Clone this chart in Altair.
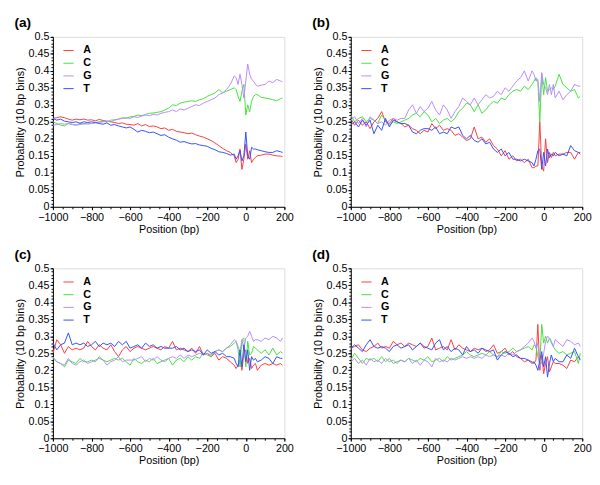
import altair as alt
import pandas as pd

positions = list(range(-1000, -59, 20)) + list(range(-50, 61, 10)) + list(range(80, 181, 20)) + [190]
bases = ["A", "C", "G", "T"]
colors = ["#ff3b3b", "#44e23a", "#b98aff", "#3050ff"]
x_ticks = list(range(-1000, 201, 200))
y_ticks = [round(i * 0.05, 2) for i in range(11)]

a_A = [0.26, 0.262, 0.265, 0.262, 0.258, 0.255, 0.258, 0.256, 0.258, 0.255,
       0.256, 0.253, 0.257, 0.254, 0.252, 0.25, 0.248, 0.245, 0.247, 0.243,
       0.242, 0.24, 0.245, 0.238, 0.242, 0.236, 0.238, 0.235, 0.23, 0.232,
       0.225, 0.228, 0.222, 0.22, 0.218, 0.215, 0.217, 0.212, 0.208, 0.205,
       0.2, 0.195, 0.188, 0.18, 0.172, 0.165, 0.16, 0.15,
       0.13, 0.14, 0.17, 0.11, 0.14, 0.185, 0.14, 0.165, 0.13, 0.14, 0.145, 0.15,
       0.152, 0.155, 0.155, 0.152, 0.15, 0.149, 0.148]
a_C = [0.25, 0.245, 0.24, 0.238, 0.245, 0.243, 0.24, 0.245, 0.243, 0.247,
       0.245, 0.248, 0.25, 0.252, 0.25, 0.255, 0.256, 0.258, 0.262, 0.26,
       0.265, 0.266, 0.27, 0.268, 0.272, 0.275, 0.276, 0.278, 0.28, 0.285,
       0.29, 0.3, 0.298, 0.305, 0.308, 0.31, 0.312, 0.31, 0.315, 0.318,
       0.325, 0.33, 0.335, 0.345, 0.335, 0.34, 0.345, 0.35,
       0.345, 0.325, 0.31, 0.34, 0.36, 0.27, 0.3, 0.28, 0.31, 0.325, 0.33, 0.33,
       0.322, 0.32, 0.318, 0.315, 0.312, 0.318, 0.32]
a_G = [0.24, 0.242, 0.245, 0.243, 0.245, 0.242, 0.24, 0.242, 0.245, 0.243,
       0.245, 0.247, 0.248, 0.25, 0.252, 0.25, 0.255, 0.258, 0.26, 0.262,
       0.26, 0.265, 0.263, 0.267, 0.27, 0.268, 0.272, 0.27, 0.275, 0.278,
       0.28, 0.285, 0.28, 0.288, 0.285, 0.29, 0.295, 0.3, 0.298, 0.305,
       0.31, 0.315, 0.32, 0.33, 0.335, 0.345, 0.36, 0.385,
       0.38, 0.36, 0.39, 0.36, 0.32, 0.37, 0.42, 0.39, 0.375, 0.37, 0.36, 0.355,
       0.358, 0.36, 0.37, 0.365, 0.375, 0.37, 0.368]
a_T = [0.26, 0.255, 0.258, 0.252, 0.25, 0.248, 0.25, 0.246, 0.25, 0.248,
       0.25, 0.248, 0.245, 0.243, 0.247, 0.24, 0.242, 0.238, 0.235, 0.232,
       0.235, 0.228, 0.22, 0.225, 0.222, 0.218, 0.22, 0.215, 0.21, 0.212,
       0.205, 0.2, 0.196, 0.19, 0.192, 0.188, 0.185, 0.186, 0.182, 0.18,
       0.178, 0.172, 0.168, 0.162, 0.16, 0.157, 0.152, 0.155,
       0.14, 0.15, 0.165, 0.135, 0.15, 0.22, 0.15, 0.14, 0.175, 0.17, 0.17, 0.168,
       0.165, 0.162, 0.16, 0.16, 0.165, 0.162, 0.16]

b_A = [0.26, 0.24, 0.255, 0.24, 0.25, 0.23, 0.25, 0.26, 0.28, 0.25,
       0.245, 0.26, 0.25, 0.245, 0.235, 0.24, 0.23, 0.225, 0.215, 0.225,
       0.22, 0.245, 0.23, 0.24, 0.225, 0.23, 0.225, 0.21, 0.215, 0.205,
       0.195, 0.2, 0.235, 0.2, 0.205, 0.19, 0.2, 0.18, 0.17, 0.15,
       0.165, 0.14, 0.15, 0.135, 0.14, 0.13, 0.14, 0.115,
       0.115, 0.12, 0.12, 0.25, 0.12, 0.105, 0.2, 0.13, 0.16, 0.145, 0.16, 0.15,
       0.155, 0.155, 0.16, 0.16, 0.14, 0.16, 0.16]
b_C = [0.27, 0.25, 0.26, 0.265, 0.25, 0.26, 0.255, 0.245, 0.27, 0.255,
       0.24, 0.25, 0.245, 0.25, 0.255, 0.26, 0.27, 0.275, 0.265, 0.28,
       0.27, 0.25, 0.26, 0.245, 0.255, 0.26, 0.25, 0.26, 0.28, 0.29,
       0.305, 0.3, 0.28, 0.3, 0.275, 0.285, 0.3, 0.31, 0.305, 0.32,
       0.315, 0.33, 0.34, 0.345, 0.34, 0.355, 0.345, 0.36,
       0.37, 0.38, 0.365, 0.25, 0.39, 0.33, 0.38, 0.34, 0.345, 0.35, 0.345, 0.355,
       0.39, 0.36, 0.35, 0.34, 0.345, 0.32, 0.325]
b_G = [0.255, 0.265, 0.245, 0.26, 0.235, 0.265, 0.255, 0.245, 0.25, 0.24,
       0.255, 0.26, 0.255, 0.26, 0.26, 0.285, 0.3, 0.275, 0.295, 0.28,
       0.29, 0.31, 0.285, 0.27, 0.3, 0.285, 0.26, 0.28, 0.295, 0.32,
       0.31, 0.3, 0.32, 0.3, 0.315, 0.33, 0.32, 0.325, 0.34, 0.33,
       0.35, 0.34, 0.355, 0.37, 0.38, 0.4, 0.37, 0.4,
       0.39, 0.37, 0.375, 0.31, 0.395, 0.36, 0.35, 0.33, 0.36, 0.33, 0.36, 0.32,
       0.34, 0.315, 0.33, 0.34, 0.36, 0.355, 0.355]
b_T = [0.24, 0.25, 0.235, 0.255, 0.24, 0.255, 0.215, 0.24, 0.225, 0.26,
       0.235, 0.255, 0.25, 0.245, 0.245, 0.24, 0.22, 0.215, 0.225, 0.23,
       0.23, 0.225, 0.235, 0.215, 0.22, 0.215, 0.235, 0.23, 0.235, 0.21,
       0.2, 0.21, 0.195, 0.19, 0.2, 0.185, 0.19, 0.17, 0.16, 0.17,
       0.15, 0.16, 0.14, 0.14, 0.135, 0.14, 0.135, 0.13,
       0.12, 0.14, 0.165, 0.17, 0.11, 0.16, 0.12, 0.17, 0.145, 0.155, 0.15, 0.16,
       0.15, 0.155, 0.15, 0.18, 0.165, 0.16, 0.155]

c_A = [0.25, 0.29, 0.275, 0.25, 0.27, 0.26, 0.265, 0.26, 0.265, 0.285,
       0.27, 0.26, 0.275, 0.265, 0.26, 0.275, 0.255, 0.24, 0.26, 0.27,
       0.255, 0.265, 0.27, 0.265, 0.26, 0.265, 0.27, 0.265, 0.26, 0.27,
       0.265, 0.285, 0.26, 0.265, 0.26, 0.255, 0.265, 0.25, 0.27, 0.245,
       0.25, 0.24, 0.25, 0.23, 0.24, 0.235, 0.225, 0.215,
       0.205, 0.215, 0.23, 0.2, 0.25, 0.26, 0.22, 0.235, 0.205, 0.215, 0.22, 0.2,
       0.215, 0.22, 0.215, 0.22, 0.215, 0.22, 0.215]
c_C = [0.235, 0.225, 0.22, 0.21, 0.23, 0.225, 0.22, 0.235, 0.225, 0.225,
       0.23, 0.225, 0.24, 0.23, 0.225, 0.23, 0.235, 0.23, 0.235, 0.225,
       0.215, 0.235, 0.225, 0.22, 0.23, 0.225, 0.235, 0.22, 0.225, 0.23,
       0.235, 0.215, 0.23, 0.235, 0.225, 0.24, 0.23, 0.24, 0.235, 0.25,
       0.245, 0.24, 0.255, 0.26, 0.255, 0.265, 0.27, 0.28,
       0.285, 0.26, 0.21, 0.29, 0.295, 0.21, 0.285, 0.245, 0.25, 0.27, 0.265, 0.26,
       0.25, 0.26, 0.245, 0.265, 0.245, 0.255, 0.25]
c_G = [0.24, 0.225, 0.22, 0.215, 0.235, 0.22, 0.215, 0.225, 0.23, 0.22,
       0.225, 0.23, 0.235, 0.23, 0.215, 0.225, 0.23, 0.24, 0.225, 0.23,
       0.23, 0.23, 0.235, 0.24, 0.225, 0.235, 0.23, 0.24, 0.23, 0.225,
       0.235, 0.24, 0.235, 0.245, 0.235, 0.245, 0.24, 0.245, 0.25, 0.245,
       0.25, 0.245, 0.255, 0.26, 0.255, 0.265, 0.275, 0.29,
       0.285, 0.27, 0.255, 0.29, 0.26, 0.295, 0.3, 0.315, 0.3, 0.285, 0.29, 0.29,
       0.285, 0.295, 0.29, 0.3, 0.295, 0.285, 0.295]
c_T = [0.28, 0.26, 0.275, 0.28, 0.31, 0.275, 0.28, 0.275, 0.28, 0.27,
       0.275, 0.285, 0.27, 0.28, 0.275, 0.28, 0.27, 0.285, 0.275, 0.285,
       0.265, 0.27, 0.275, 0.265, 0.28, 0.27, 0.275, 0.265, 0.27, 0.265,
       0.265, 0.265, 0.27, 0.26, 0.265, 0.255, 0.26, 0.255, 0.26, 0.245,
       0.26, 0.25, 0.255, 0.245, 0.25, 0.24, 0.24, 0.235,
       0.22, 0.21, 0.26, 0.21, 0.275, 0.225, 0.26, 0.2, 0.24, 0.23, 0.235, 0.225,
       0.23, 0.24, 0.235, 0.22, 0.24, 0.235, 0.235]

d_A = [0.265, 0.27, 0.275, 0.26, 0.255, 0.265, 0.27, 0.28, 0.265, 0.27,
       0.265, 0.285, 0.275, 0.28, 0.27, 0.28, 0.275, 0.27, 0.28, 0.265,
       0.27, 0.295, 0.26, 0.265, 0.27, 0.26, 0.29, 0.26, 0.275, 0.265,
       0.26, 0.255, 0.265, 0.26, 0.265, 0.255, 0.26, 0.275, 0.25, 0.255,
       0.265, 0.245, 0.255, 0.24, 0.235, 0.225, 0.23, 0.225,
       0.22, 0.23, 0.335, 0.2, 0.245, 0.19, 0.22, 0.24, 0.195, 0.21, 0.225, 0.22,
       0.22, 0.215, 0.205, 0.23, 0.225, 0.24, 0.235]
d_C = [0.23, 0.25, 0.235, 0.22, 0.235, 0.23, 0.235, 0.225, 0.24, 0.225,
       0.235, 0.22, 0.225, 0.23, 0.225, 0.235, 0.23, 0.225, 0.235, 0.23,
       0.24, 0.225, 0.23, 0.235, 0.225, 0.24, 0.23, 0.235, 0.24, 0.245,
       0.255, 0.245, 0.24, 0.245, 0.25, 0.245, 0.255, 0.245, 0.24, 0.255,
       0.25, 0.255, 0.265, 0.255, 0.26, 0.265, 0.27, 0.26,
       0.275, 0.27, 0.24, 0.22, 0.335, 0.28, 0.3, 0.28, 0.295, 0.285, 0.27, 0.26,
       0.25, 0.255, 0.245, 0.25, 0.255, 0.22, 0.25]
d_G = [0.225, 0.235, 0.22, 0.23, 0.215, 0.235, 0.225, 0.23, 0.22, 0.235,
       0.225, 0.23, 0.22, 0.23, 0.225, 0.235, 0.22, 0.23, 0.215, 0.23,
       0.225, 0.21, 0.235, 0.225, 0.23, 0.225, 0.235, 0.23, 0.235, 0.24,
       0.235, 0.24, 0.235, 0.24, 0.235, 0.245, 0.24, 0.245, 0.24, 0.245,
       0.24, 0.25, 0.245, 0.255, 0.26, 0.27, 0.28, 0.295,
       0.285, 0.265, 0.28, 0.21, 0.225, 0.25, 0.285, 0.3, 0.295, 0.28, 0.27, 0.29,
       0.28, 0.27, 0.29, 0.285, 0.275, 0.28, 0.27]
d_T = [0.265, 0.275, 0.265, 0.255, 0.275, 0.29, 0.27, 0.265, 0.27, 0.265,
       0.255, 0.27, 0.275, 0.265, 0.27, 0.275, 0.26, 0.27, 0.28, 0.27,
       0.265, 0.26, 0.28, 0.29, 0.26, 0.27, 0.255, 0.265, 0.26, 0.245,
       0.27, 0.255, 0.26, 0.25, 0.265, 0.26, 0.255, 0.26, 0.23, 0.245,
       0.255, 0.25, 0.24, 0.245, 0.235, 0.235, 0.23, 0.22,
       0.225, 0.215, 0.2, 0.23, 0.255, 0.21, 0.24, 0.18, 0.22, 0.245, 0.225, 0.235,
       0.225, 0.225, 0.245, 0.235, 0.265, 0.24, 0.23]

panels = {
    "a": [a_A, a_C, a_G, a_T],
    "b": [b_A, b_C, b_G, b_T],
    "c": [c_A, c_C, c_G, c_T],
    "d": [d_A, d_C, d_G, d_T],
}

FONT = "Liberation Sans"
W, H = 237, 174
AX = dict(labelFont=FONT, titleFont=FONT, labelFontSize=11, titleFontSize=11,
          labelFontWeight="normal", titleFontWeight="normal",
          labelColor="black", titleColor="black", domainColor="black",
          tickColor="black", grid=False, labelOverlap=False, labelFlush=False)


def make_panel(letter):
    rows = []
    for base, series in zip(bases, panels[letter]):
        if len(series) != len(positions):
            raise ValueError(f"{letter}{base}: {len(series)} vs {len(positions)}")
        for p, v in zip(positions, series):
            rows.append({"pos": p, "prob": v, "base": base})
    df = pd.DataFrame(rows)
    xs = alt.Scale(domain=[-1000, 200], nice=False, zero=False)
    ys = alt.Scale(domain=[0, 0.5], nice=False)
    lines = alt.Chart(df).mark_line(strokeWidth=1, clip=True).encode(
        x=alt.X("pos:Q", scale=xs,
                axis=alt.Axis(values=x_ticks, format="d", title="Position (bp)",
                              orient="bottom", tickSize=3, labelPadding=2,
                              titlePadding=1, **AX)),
        y=alt.Y("prob:Q", scale=ys,
                axis=alt.Axis(values=y_ticks, format="~g",
                              title="Probability (10 bp bins)",
                              orient="left", tickSize=3, labelPadding=1,
                              titlePadding=3, **AX)),
        color=alt.Color("base:N", scale=alt.Scale(domain=bases, range=colors),
                        legend=alt.Legend(title=None, orient="none", legendX=10,
                                          legendY=8, symbolType="stroke",
                                          symbolStrokeWidth=1, symbolSize=110,
                                          labelFontWeight="bold", labelFontSize=11,
                                          labelOffset=9, rowPadding=2,
                                          labelFont=FONT, labelColor="black")),
    )
    minor = alt.Chart(df).mark_point(opacity=0).encode(
        x=alt.X("pos:Q", scale=xs,
                axis=alt.Axis(values=list(range(-1000, 201, 50)), labels=False,
                              title=None, domain=False, tickSize=2,
                              orient="bottom", tickColor="black")),
        y=alt.Y("prob:Q", scale=ys,
                axis=alt.Axis(values=[round(i * 0.01, 2) for i in range(51)],
                              labels=False, title=None, domain=False,
                              tickSize=2, orient="left", tickColor="black")),
    )
    return alt.layer(lines, minor).resolve_axis(
        x="independent", y="independent"
    ).properties(
        width=W, height=H,
        title=alt.TitleParams(f"({letter})", anchor="start", frame="bounds",
                              fontSize=14, fontWeight="bold", font=FONT,
                              offset=1, color="black"),
    )


top = alt.hconcat(make_panel("a"), make_panel("b"), spacing=18).resolve_scale(
    color="independent").resolve_legend(color="independent")
bottom = alt.hconcat(make_panel("c"), make_panel("d"), spacing=18).resolve_scale(
    color="independent").resolve_legend(color="independent")
chart = alt.vconcat(top, bottom, spacing=12).resolve_scale(
    color="independent").resolve_legend(color="independent").configure_view(
    stroke=None
).configure(padding={"left": 6, "top": 2, "right": 0, "bottom": 0})

chart.save("out.html", embed_options={"renderer": "svg", "actions": False})
